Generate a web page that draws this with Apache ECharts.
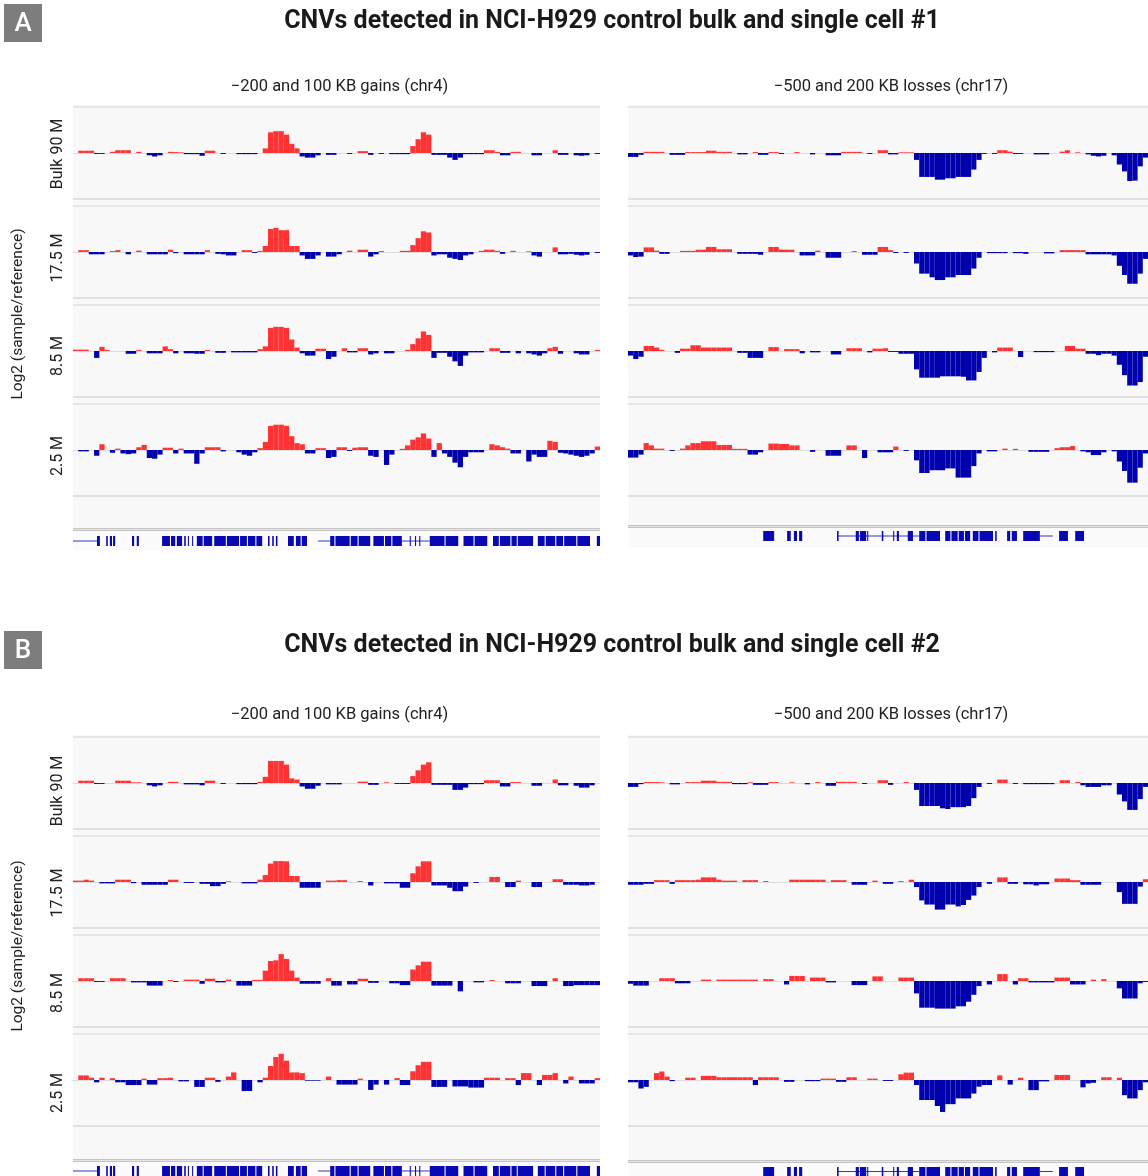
<!DOCTYPE html>
<html><head><meta charset="utf-8">
<script src="https://cdn.jsdelivr.net/npm/echarts@6/dist/echarts.min.js"></script>
<style>html,body{margin:0;padding:0;background:#fff}#c{width:1148px;height:1176px}</style>
</head><body><div id="c"></div><script>
// ---------- data ----------
const bins = Array.from({length: 100}, (_, i) => i);
const rowLabels = ['Bulk 90 M', '17.5 M', '8.5 M', '2.5 M'];
const sectionTitles = ['CNVs detected in NCI-H929 control bulk and single cell #1', 'CNVs detected in NCI-H929 control bulk and single cell #2'];
const sectionLetters = ['A', 'B'];
const panelTitles = ['\u2212200 and 100 KB gains (chr4)', '\u2212500 and 200 KB losses (chr17)'];
const yAxisTitle = 'Log2 (sample/reference)';

// Section A, chr4 (left)
const A1L = [0,.1,.1,.1,-.04,-.04,0,.05,.12,.12, .12,0,.05,0,-.1,-.15,-.1,0,.05,.04, .03,-.05,-.05,-.05,-.12,.1,.1,0,-.04,0, 0,-.05,-.05,-.05,-.05,0,.2,.9,.95,.95, .8,.4,.2,-.15,-.2,-.2,-.1,0,-.08,-.08, 0,0,-.04,0,.08,.08,-.08,0,-.04,0, -.05,-.05,-.05,-.05,.3,.6,.9,.8,-.08,-.08, -.08,-.2,-.3,-.2,-.05,-.05,-.05,-.05,.12,.12, .05,-.1,-.1,.05,.05,0,0,-.1,-.1,0, 0,.12,-.08,-.08,0,-.1,-.12,-.1,0,-.04];
const A2L = [0,.08,.08,-.1,-.1,-.1,0,.04,.08,0, -.1,0,.06,0,-.1,-.1,-.1,-.1,.1,-.05, 0,-.1,-.1,-.1,-.1,.08,0,-.08,-.1,-.15, -.15,0,.08,.08,-.04,.05,.26,1.0,1.05,.95, .95,.26,.26,-.15,-.3,-.3,-.15,0,-.2,-.2, -.1,0,.06,0,.1,.1,-.2,-.1,.04,0, 0,0,.05,.05,.3,.6,.9,.85,-.15,-.1, -.1,-.25,-.3,-.35,-.15,-.1,0,.05,.1,.1, .05,-.08,0,.05,0,0,.03,-.15,-.2,0, 0,.2,-.1,-.1,-.08,-.12,-.15,-.12,0,-.04];
const A3L = [.06,.06,.06,0,-.3,.18,.04,0,0,0, -.12,-.12,.04,0,-.1,-.1,-.1,.2,.08,-.1, 0,-.1,-.1,-.12,-.12,.04,0,-.08,-.08,0, -.06,-.06,-.06,-.06,-.06,.08,.2,1.0,1.05,1.05, 1.0,.5,.15,-.1,-.2,-.2,.1,.1,-.35,-.25, 0,.12,-.06,-.06,.12,.12,-.15,-.1,0,-.1, -.1,0,0,.05,.3,.55,.85,.7,-.3,-.08, -.08,-.25,-.45,-.65,-.2,-.06,-.06,-.06,0,.12, .12,-.08,-.08,0,-.1,0,-.1,-.15,-.2,-.1, .12,.18,-.12,0,0,-.1,-.15,-.15,0,.04];
const A4L = [0,-.06,-.06,0,-.25,.25,0,-.12,.06,-.15, -.18,-.15,.12,.22,-.35,-.38,-.2,.1,.1,-.15, .06,-.15,-.15,-.6,-.15,.12,.12,.12,-.06,0, 0,-.1,-.2,-.25,-.1,.08,.35,1.05,1.1,1.1, 1.05,.6,.3,.25,-.15,-.15,.08,.08,-.35,-.3, .12,.12,-.04,.1,.12,.12,-.25,-.3,0,-.65, -.2,0,.05,.2,.45,.55,.72,.5,-.3,.3, -.15,-.3,-.55,-.75,-.3,-.1,-.1,-.1,0,.25, .2,.12,.06,-.15,-.15,0,-.5,-.2,-.3,-.3, .4,.35,-.12,-.15,-.2,-.25,-.3,-.25,-.15,.15];
// Section A, chr17 (right)
const A1R = [-.17,-.17,-.08,.05,.05,.05,.05,0,-.08,-.08, -.08,.04,.04,.04,.04,.1,.1,.05,.05,.05, 0,-.06,-.06,0,.04,-.08,-.08,.04,.04,-.04, 0,0,.04,0,0,-.06,0,0,-.1,-.1, -.1,.05,.05,.05,.05,0,-.04,0,.12,.12, -.06,-.06,.03,.03,.03,-.3,-1.04,-1.04,-1.04,-1.16, -1.16,-1.1,-1.1,-1.04,-1.04,-1.04,-.72,-.3,-.04,0, -.04,.12,.12,.06,-.04,-.04,0,0,-.06,-.06, -.06,0,0,.06,.12,0,.03,0,-.06,-.12, -.15,-.12,0,-.1,-.5,-.8,-1.22,-1.2,-.58,-.2];
const A2R = [-.15,-.22,-.2,.2,.2,.06,-.08,-.08,0,0, .05,.05,.05,.1,.1,.22,.22,.12,.12,.12, 0,-.08,-.08,-.08,-.08,-.12,0,.22,.22,.1, .1,.1,0,-.15,-.15,-.15,.06,0,-.25,-.25, -.25,0,0,.04,0,-.12,-.12,-.12,.22,.22, .08,-.04,0,-.04,0,-.5,-.94,-.94,-1.1,-1.22, -1.22,-1.1,-1.1,-1.0,-1.0,-1.0,-.72,-.25,0,-.05, -.05,-.05,-.05,0,-.05,-.05,-.08,0,0,0, -.06,-.06,0,.08,.08,.08,.08,.08,-.1,-.1, -.1,-.1,-.1,-.15,-.6,-1.0,-1.38,-1.38,-.94,-.3];
const A3R = [-.2,-.35,-.25,.22,.22,.15,.05,0,0,-.08, .1,.1,.25,.25,.15,.15,.15,.15,.15,.15, 0,-.08,-.08,-.3,-.3,-.3,0,.17,.17,0, .08,.08,.08,-.1,0,-.06,-.06,0,0,-.15, -.15,0,.12,.12,.12,0,-.06,.1,.1,.12, -.04,-.04,-.12,-.12,-.12,-.8,-1.16,-1.16,-1.16,-1.16, -1.1,-1.1,-1.1,-1.1,-1.12,-1.28,-1.28,-.91,-.3,0, -.06,.15,.15,.15,0,-.26,0,0,-.05,-.05, -.05,-.05,0,0,.22,.22,.1,.1,-.12,-.12, -.18,-.12,-.12,-.2,-.6,-1.05,-1.5,-1.5,-1.35,-.25];
const A4R = [-.33,-.33,-.2,.3,.2,.06,.06,0,-.04,0, .06,.2,.3,.3,.38,.38,.38,.22,.22,.22, .05,.05,.05,-.2,-.2,-.1,0,.28,.28,.26, .26,.2,.2,0,0,-.08,0,0,-.25,-.25, -.25,0,.2,.2,0,-.35,0,0,-.1,-.1, -.1,.15,0,-.04,0,-.45,-1.0,-1.0,-.88,-.88, -.88,-.8,-.8,-1.2,-1.2,-1.2,-.7,-.15,0,-.06, -.06,0,.06,0,.05,0,0,-.08,-.08,-.08, -.08,0,.08,.12,.12,.17,0,-.06,-.1,-.22, -.22,-.1,0,-.06,-.5,-.91,-1.42,-1.42,-.77,-.15];
// Section B, chr4 (left)
const B1L = [0,.1,.1,.1,-.04,-.04,0,0,.1,.1, .1,.03,.03,0,-.1,-.15,-.1,0,.05,.05, 0,-.06,-.06,-.06,-.1,.1,.1,0,-.04,0, 0,-.05,-.05,-.05,-.05,.05,.27,.96,.96,.96, .8,.2,.15,-.15,-.25,-.25,-.12,0,-.06,-.06, -.06,0,0,0,.06,.06,-.08,-.08,0,.03, 0,-.04,-.04,-.04,.3,.55,.8,.9,-.08,-.08, -.08,-.08,-.3,-.3,-.2,-.05,-.05,-.05,.12,.12, .12,-.15,-.15,.04,.04,0,0,-.12,-.12,0, 0,.15,-.1,-.1,0,-.12,-.2,-.2,-.1,0];
const B2L = [.06,.06,.1,.06,0,-.06,-.06,-.06,.1,.1, .1,-.05,0,-.12,-.12,-.12,-.12,-.12,.1,.1, 0,-.04,-.04,0,-.08,-.08,-.18,-.18,-.08,.03, 0,0,-.06,-.06,-.06,.1,.3,.8,.91,.91, .9,.26,.26,-.25,-.25,-.25,-.25,0,.06,.06, .08,.08,0,0,.04,0,-.15,0,0,-.06, -.06,-.06,-.25,-.25,.38,.68,.9,.9,-.15,-.15, -.15,-.25,-.4,-.4,-.2,0,-.04,0,0,.22, .22,0,-.22,-.22,.06,0,0,-.22,-.22,0, 0,.12,.12,-.12,-.12,-.12,-.15,-.15,-.12,0];
const B3L = [0,.12,.12,.12,-.04,-.04,0,.12,.12,.12, 0,-.06,-.06,-.06,-.2,-.2,-.2,0,.04,-.04, 0,.06,.06,.06,-.12,.1,.1,-.06,-.06,.06, 0,-.2,-.2,-.2,.05,.05,.45,.87,.9,1.17, .96,.45,.15,-.12,-.12,-.12,-.12,0,.12,-.2, -.2,0,-.15,-.15,.1,.1,-.08,-.08,0,0, -.1,-.1,-.18,-.18,.5,.68,.84,.84,-.2,-.2, -.2,-.2,0,-.45,0,0,-.06,-.06,0,.04, 0,0,-.1,-.1,-.1,0,0,-.22,-.22,-.22, 0,.12,0,-.22,-.22,-.18,-.18,-.18,-.18,-.18];
const B4L = [0,.2,.2,.1,-.1,.1,0,.08,-.1,-.1, -.22,-.22,-.22,.06,-.2,-.2,.08,.08,.1,0, -.06,-.06,0,-.3,-.3,.1,.1,-.08,0,.15, .33,0,-.48,-.48,0,-.1,.1,.61,1.0,1.14, .84,.33,.33,.3,-.03,-.03,-.03,0,.15,0, -.2,-.2,-.2,-.2,.06,0,-.43,-.2,0,-.2, 0,.08,-.22,-.22,.38,.64,.79,.79,-.3,-.3, -.3,0,-.28,-.28,-.28,-.33,-.33,-.33,.1,.1, .1,0,.08,.08,-.22,.3,.3,0,-.22,.22, .22,.3,0,-.15,.15,0,-.15,-.15,-.15,.08];
// Section B, chr17 (right)
const B1R = [-.17,-.17,-.05,.04,.04,.04,.03,0,-.06,-.06, 0,.04,.04,.04,.1,.1,.1,.05,.05,.05, -.05,-.05,-.05,.03,-.08,-.08,-.08,.04,.04,0, 0,.03,0,0,-.06,0,.04,0,-.12,-.12, .05,.05,.05,.05,0,-.04,0,0,.12,.12, -.08,0,0,.04,0,-.3,-1.0,-1.0,-1.0,-1.0, -1.1,-1.13,-1.05,-1.05,-1.05,-1.0,-.66,-.17,0,-.04, 0,.15,.15,0,-.04,0,-.05,-.05,-.05,-.05, -.05,-.05,0,.12,.12,0,.04,-.1,-.17,-.17, -.17,-.1,-.1,0,-.5,-.8,-1.17,-1.17,-.7,-.17];
const B2R = [-.12,-.12,-.12,-.08,-.08,.08,.08,.08,-.08,.08, .08,.08,.08,.1,.2,.2,.2,.1,.06,.06, .06,0,.08,.08,.08,0,.04,0,0,0, 0,.1,.1,.1,.1,.1,.1,.1,0,.08, .08,.08,0,-.12,-.12,-.12,0,.06,0,-.08, -.08,0,.04,0,.1,-.22,-.8,-.98,-.98,-1.2, -1.2,-.98,-.98,-1.06,-1.0,-.78,-.59,-.22,0,-.08, 0,.2,.2,-.08,-.08,0,-.1,-.1,-.15,-.1, -.1,0,.15,.15,.15,.08,.08,-.12,-.12,-.12, -.12,0,0,0,-.44,-.95,-.95,-.95,-.2,.12];
const B3R = [-.12,-.2,-.2,-.2,0,0,.12,.12,.12,-.1, -.1,-.1,0,0,.06,.06,0,.06,.06,.06, .06,.06,.06,.06,.06,0,.08,.08,0,0, -.15,.22,.22,.22,0,.15,.15,.15,-.06,-.06, 0,0,0,-.18,-.18,-.18,0,.2,.2,0, 0,0,.15,.15,.15,-.54,-1.16,-1.16,-1.16,-1.2, -1.2,-1.2,-1.2,-1.1,-1.1,-.9,-.6,-.22,0,-.15, 0,.3,.3,0,-.15,.12,.12,-.06,-.06,-.06, -.06,-.06,.15,.15,.15,-.15,-.15,-.15,0,.06, 0,.08,0,0,-.32,-.76,-.76,-.76,-.1,-.04];
const B4R = [-.1,-.1,-.37,-.3,0,.3,.37,.15,-.05,0, 0,.1,.1,0,.18,.18,.18,.12,.12,.12, .12,.12,.12,.12,-.22,.12,.12,.12,.12,0, -.08,-.08,0,0,-.05,-.05,-.05,.06,.06,.06, -.08,-.08,.12,.12,0,0,.06,.06,0,-.04, -.04,0,.25,.32,.32,-.22,-.87,-.87,-.87,-1.13, -1.39,-1.05,-1.05,-.8,-.8,-.8,-.59,-.29,-.22,-.22, 0,.2,0,-.2,0,.1,0,-.44,-.44,-.06, -.06,0,.22,.22,.22,0,0,-.32,-.15,-.12, 0,.12,.12,0,.1,-.66,-.8,-.8,-.44,-.1];

// gene annotation tracks (positions in bin units, 0-100)
const genesChr4 = [[4.55,5.1],[6.3,6.6],[7.0,7.4],[7.6,8.0],[11.2,11.6],[12.1,12.5],[16.9,18.4],[18.6,19.4],[19.7,20.7],[21.1,21.4],[21.8,22.0],[22.6,22.8],
  [23.5,24.6],[24.8,26.4],[26.8,29.0],[29.2,31.5],[31.7,33.0],[33.2,34.6],[34.8,35.9],[37.0,37.3],[37.8,38.1],[38.5,38.8],[40.8,41.9],[42.3,43.2],[43.4,44.4],
  [48.8,49.6],[49.8,52.5],[52.7,54.0],[54.2,56.4],[57.0,59.0],[59.2,60.4],[60.6,62.4],[63.9,64.1],[64.9,65.1],[65.7,65.9],
  [67.7,70.5],[70.7,73.1],[74.1,76.0],[76.2,78.6],[79.7,80.8],[81.0,83.0],[83.2,84.2],[84.4,87.3],[88.2,89.5],[89.7,91.5],[91.7,93.0],[93.2,95.5],[95.7,98.1],[99.4,100]];
const genesChr4Lines = [[0,4.6],[46.5,48.8],[62.4,67.7]];
const genesChr17 = [[26,28.1],[30.6,31.3],[31.9,32.5],[32.9,33.5],[40.2,40.5],[43.8,44.4],[44.6,45.8],[46.0,46.2],[48.8,49.1],[51.0,51.2],[51.7,52.1],[53.8,54.8],
  [56,57.2],[57.4,60],[61,62],[62.2,63.4],[63.6,64.6],[64.8,65.8],[66.3,67.4],[67.6,70.2],[70.6,70.9],[72.9,73.5],[73.8,74.8],[76,79.2],[82.9,84.6],[86,87.7]];
const genesChr17Lines = [[40.2,56],[79.2,81.7]];

// ---------- layout ----------
const RED = '#ff3333', BLUE = '#0000ad', GENE = '#0808b4';
const FONT = 'Roboto, sans-serif';
const COLS = [{left: 73, width: 527}, {left: 628, width: 520}];
const TRACK_H = 92;
const sections = [
  {tops: [107, 206, 305, 404], letterY: 4, titleY: 22, subY: 87, sep: [528, 525], gene: [536, 531], labelY: [154, 258, 356, 456], axisTitleY: 314,
   data: [[A1L, A1R], [A2L, A2R], [A3L, A3R], [A4L, A4R]]},
  {tops: [737, 836, 935, 1034], letterY: 631, titleY: 646, subY: 715, sep: [1159, 1160], gene: [1166, 1167], labelY: [791, 893, 993, 1093], axisTitleY: 946,
   data: [[B1L, B1R], [B2L, B2R], [B3L, B3R], [B4L, B4R]]}
];

const grid = [], xAxis = [], yAxis = [], series = [], graphic = [];
let gi = 0;
sections.forEach((sec, s) => {
  graphic.push({type: 'rect', shape: {x: 4, y: sec.letterY, width: 38, height: 38}, style: {fill: '#7d7d7d'}});
  graphic.push({type: 'text', x: 23, y: sec.letterY + 20, style: {text: sectionLetters[s], fill: '#fff', font: '500 26px ' + FONT, align: 'center', verticalAlign: 'middle'}});
  graphic.push({type: 'text', x: 612, y: sec.titleY, style: {text: sectionTitles[s], fill: '#1a1a1a', font: 'bold 25px ' + FONT, align: 'center', verticalAlign: 'middle'}});
  graphic.push({type: 'text', x: 18, y: sec.axisTitleY, rotation: Math.PI / 2, style: {text: yAxisTitle, fill: '#222', font: '15.5px ' + FONT, align: 'center', verticalAlign: 'middle'}});
  sec.labelY.forEach((ly, r) => {
    graphic.push({type: 'text', x: 58, y: ly, rotation: Math.PI / 2, style: {text: rowLabels[r], fill: '#222', font: '16px ' + FONT, align: 'center', verticalAlign: 'middle'}});
  });
  COLS.forEach((col, c) => {
    graphic.push({type: 'text', x: col.left + col.width / 2 + 3, y: sec.subY, style: {text: panelTitles[c], fill: '#222', font: '16.5px ' + FONT, align: 'center', verticalAlign: 'middle'}});
    graphic.push({type: 'rect', z: -10, shape: {x: col.left, y: sec.tops[0] - 2, width: col.width, height: sec.sep[c] - sec.tops[0] + 2}, style: {fill: '#f8f8f8'}});
    sec.tops.forEach(t => {
      graphic.push({type: 'rect', z: -5, shape: {x: col.left, y: t - 1, width: col.width, height: 2}, style: {fill: '#e6e6e6'}});
      graphic.push({type: 'rect', z: -5, shape: {x: col.left, y: t + TRACK_H - 1, width: col.width, height: 2}, style: {fill: '#e0e0e0'}});
    });
    graphic.push({type: 'rect', z: -5, shape: {x: col.left, y: sec.sep[c], width: col.width, height: 1}, style: {fill: '#c4c4c4'}});
    graphic.push({type: 'rect', z: -5, shape: {x: col.left, y: sec.sep[c] + 1, width: col.width, height: 1}, style: {fill: '#e4e4e4'}});
    graphic.push({type: 'rect', z: -5, shape: {x: col.left, y: sec.sep[c] + 2, width: col.width, height: 1}, style: {fill: '#c4c4c4'}});
    graphic.push({type: 'rect', z: -5, shape: {x: col.left, y: sec.sep[c] + 3, width: col.width, height: 20}, style: {fill: '#fbfbfb'}});
    sec.tops.forEach((t, r) => {
      grid.push({left: col.left, top: t, width: col.width, height: TRACK_H, containLabel: false});
      xAxis.push({type: 'category', gridIndex: gi, data: bins, boundaryGap: true, axisLine: {show: true, onZero: true, lineStyle: {color: '#dcdcdc', width: 1}}, axisTick: {show: false}, axisLabel: {show: false}, splitLine: {show: false}});
      yAxis.push({type: 'value', gridIndex: gi, min: -2, max: 2, show: false, splitLine: {show: false}});
      series.push({type: 'bar', xAxisIndex: gi, yAxisIndex: gi, data: sec.data[r][c], barWidth: '100%', barGap: '0%',
        itemStyle: {color: p => (p.value >= 0 ? RED : BLUE)}, silent: true, animation: false});
      gi++;
    });
    grid.push({left: col.left, top: sec.gene[c], width: col.width, height: 10});
    xAxis.push({type: 'value', gridIndex: gi, min: 0, max: 100, show: false});
    yAxis.push({type: 'value', gridIndex: gi, min: 0, max: 1, show: false});
    const blocks = c === 0 ? genesChr4 : genesChr17;
    const lines = c === 0 ? genesChr4Lines : genesChr17Lines;
    series.push({type: 'custom', xAxisIndex: gi, yAxisIndex: gi, data: lines, silent: true, animation: false, encode: {x: [0, 1]},
      renderItem: (p, api) => {
        const a = api.coord([api.value(0), 0.5]), b = api.coord([api.value(1), 0.5]);
        return {type: 'rect', shape: {x: a[0], y: a[1] - 0.5, width: b[0] - a[0], height: 1}, style: {fill: '#3535c4'}};
      }});
    series.push({type: 'custom', xAxisIndex: gi, yAxisIndex: gi, data: blocks, silent: true, animation: false, encode: {x: [0, 1]},
      renderItem: (p, api) => {
        const a = api.coord([api.value(0), 0]), b = api.coord([api.value(1), 1]);
        return {type: 'rect', shape: {x: a[0], y: b[1], width: Math.max(1, b[0] - a[0]), height: a[1] - b[1]}, style: {fill: GENE}};
      }});
    gi++;
  });
});

const chart = echarts.init(document.getElementById('c'), null, {renderer: 'canvas'});
chart.setOption({animation: false, backgroundColor: '#ffffff', grid, xAxis, yAxis, series, graphic});
</script></body></html>
